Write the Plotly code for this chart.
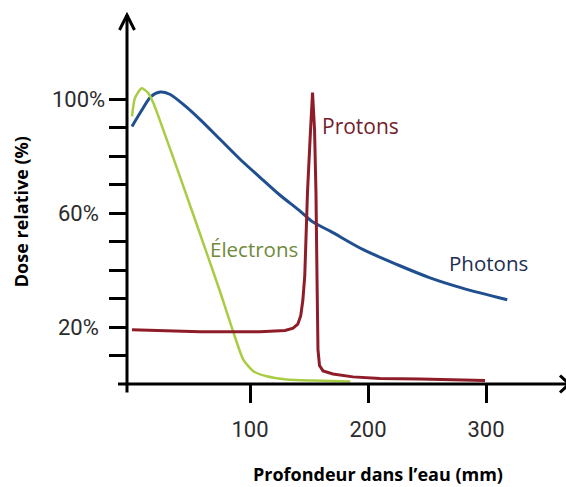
import plotly.graph_objects as go

# Depth (mm) and relative dose (%) for each beam type
photon_depth = [0, 8, 16, 24, 32, 45, 58, 75, 92, 108, 125, 142, 153, 168, 196, 225, 252, 280, 318]
photon_dose = [90.5, 96, 101, 102.6, 101.8, 97.7, 92.8, 85.8, 78.8, 72.8, 66.5, 60.9, 57.0, 53.7, 47.2, 41.9, 37.4, 33.7, 29.6]

electron_depth = [0, 2.5, 8.2, 13.8, 18.1, 26.5, 40.7, 57.6, 74.6, 85.8, 94.3, 102.8, 114.2, 131.1, 153.4, 185]
electron_dose = [94, 100.5, 103.9, 102.2, 98.7, 89.3, 72.8, 52.8, 32.5, 18.3, 8.6, 4.5, 2.7, 1.6, 1.2, 0.9]

proton_depth = [0, 57.6, 108.5, 129.7, 136.5, 140.5, 143.0, 144.8, 146.4, 148.7, 151.3, 153.0,
                154.7, 155.9, 156.8, 157.6, 158.9, 161.9, 170.3, 187.3, 210.2, 244.1, 299.2]
proton_dose = [19.1, 18.4, 18.4, 18.8, 19.6, 21.0, 24.0, 29.5, 38.0, 67.2, 89.3, 102.4,
               89.3, 67.2, 36.7, 12.1, 6.5, 4.6, 3.5, 2.5, 1.9, 1.75, 1.2]

x_tick_values = [100, 200, 300]
y_tick_values = [10, 20, 30, 40, 50, 60, 70, 80, 90, 100]
y_label_values = [20, 60, 100]
y_label_text = ["20%", "60%", "100%"]

# Canvas geometry
W, H = 566, 487
M_L, M_R, M_T, M_B = 127, 0, 15, 102.5
PLOT_W = W - M_L - M_R
PLOT_H = H - M_T - M_B
X_RANGE = [-4.24, -4.24 + PLOT_W / 1.18]
Y_RANGE = [0, PLOT_H / 2.85]


def px(xp):
    return (xp - M_L) / PLOT_W


def py(yp):
    return (H - M_B - yp) / PLOT_H


BLUE = "#1f4f8f"
GREEN = "#a9cc45"
RED = "#8f1d29"
TICK_FONT = "Roboto, sans-serif"
LABEL_FONT = "Open Sans, sans-serif"

fig = go.Figure()
fig.add_trace(go.Scatter(x=photon_depth, y=photon_dose, mode="lines",
                         line=dict(color=BLUE, width=3, shape="spline", smoothing=0.8)))
fig.add_trace(go.Scatter(x=electron_depth, y=electron_dose, mode="lines",
                         line=dict(color=GREEN, width=2.5, shape="spline", smoothing=0.6)))
fig.add_trace(go.Scatter(x=proton_depth, y=proton_dose, mode="lines",
                         line=dict(color=RED, width=3)))

# Axis lines and open arrow heads
axis_style = dict(color="black", width=3)
shapes = [
    dict(type="line", xref="paper", yref="paper", x0=0, x1=0, y0=py(393), y1=1, line=axis_style),
    dict(type="line", xref="paper", yref="paper", x0=px(118), x1=px(569), y0=0, y1=0, line=axis_style),
    dict(type="path", xref="paper", yref="paper",
         path=f"M {px(119.5)} {py(30)} L 0 1 L {px(134.5)} {py(30)}", line=axis_style),
    dict(type="path", xref="paper", yref="paper",
         path=f"M {px(560)} {py(376)} L {px(569)} 0 L {px(560)} {py(393)}", line=axis_style),
]

annotations = []
for v, t in zip(y_label_values, y_label_text):
    annotations.append(dict(x=px(78), xref="paper", y=v, yref="y", text=t, showarrow=False,
                            xanchor="center", yanchor="middle",
                            font=dict(family=TICK_FONT, size=22, color="#2b2b2b")))

annotations += [
    dict(x=159.3, y=90.6, text="Protons", showarrow=False, xanchor="left", yanchor="middle",
         font=dict(family=LABEL_FONT, size=21, color="#74202c")),
    dict(x=266.7, y=42.4, text="Photons", showarrow=False, xanchor="left", yanchor="middle",
         font=dict(family=LABEL_FONT, size=20.5, color="#1c2e52")),
    dict(x=64.4, y=47.5, text="Électrons", showarrow=False, xanchor="left", yanchor="middle",
         font=dict(family=LABEL_FONT, size=20.5, color="#6f8a3a")),
    dict(x=px(21), xref="paper", y=py(212.5), yref="paper", text="<b>Dose relative (%)</b>",
         textangle=-90, showarrow=False, xanchor="center", yanchor="middle",
         font=dict(family=LABEL_FONT, size=18, color="black")),
    dict(x=px(378), xref="paper", y=py(475), yref="paper", text="<b>Profondeur dans l’eau (mm)</b>",
         showarrow=False, xanchor="center", yanchor="middle",
         font=dict(family=LABEL_FONT, size=18, color="black")),
]

fig.update_layout(
    width=W, height=H,
    margin=dict(l=M_L, r=M_R, t=M_T, b=M_B, pad=0),
    paper_bgcolor="white", plot_bgcolor="white",
    showlegend=False,
    shapes=shapes,
    annotations=annotations,
    xaxis=dict(range=X_RANGE, showgrid=False, zeroline=False, showline=False,
               tickmode="array", tickvals=x_tick_values,
               ticks="outside", ticklen=18, tickwidth=3, tickcolor="black",
               tickfont=dict(family=TICK_FONT, size=22, color="#2b2b2b"),
               ticklabelstandoff=8),
    yaxis=dict(range=Y_RANGE, showgrid=False, zeroline=False, showline=False,
               tickmode="array", tickvals=y_tick_values, showticklabels=False,
               ticks="outside", ticklen=17, tickwidth=3, tickcolor="black"),
)

fig.write_html("out.html")
